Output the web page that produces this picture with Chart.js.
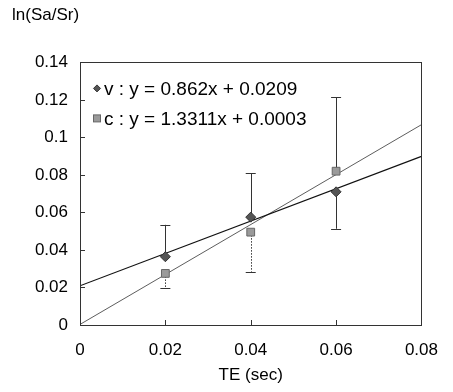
<!DOCTYPE html>
<html>
<head>
<meta charset="utf-8">
<script src="https://cdn.jsdelivr.net/npm/chart.js@4/dist/chart.umd.min.js"></script>
<style>
html,body{margin:0;padding:0;background:#fff;}
#wrap{width:453px;height:392px;position:relative;}
</style>
</head>
<body>
<div id="wrap"><canvas id="c" width="453" height="392"></canvas></div>
<script>
// ---- data ----
const teValues = [0.02, 0.04, 0.06];
const vValues = [0.0364, 0.0575, 0.071];
const cValues = [0.0275, 0.0495, 0.082];
// error bar end points (one-sided bars as drawn)
const vErrEnds = [0.0534, 0.081, 0.0513];
const cErrEnds = [0.0197, 0.0284, 0.1215];
// trend line end points (from legend equations, x = 0 and 0.08)
const trendX = [0, 0.08];
const vTrend = [0.0209, 0.0899];
const cTrend = [0.0003, 0.1068];
const legendLabels = ['v : y = 0.862x + 0.0209', 'c : y = 1.3311x + 0.0003'];
const xTicks = [0, 0.02, 0.04, 0.06, 0.08];
const yTicks = [0, 0.02, 0.04, 0.06, 0.08, 0.1, 0.12, 0.14];

const FONT = "'Liberation Sans', Arial, sans-serif";

const pts = (xs, ys) => xs.map((x, i) => ({x: x, y: ys[i]}));

const errPlugin = {
  id: 'errbars',
  beforeDatasetsDraw(chart) {
    const ctx = chart.ctx, xs = chart.scales.x, ys = chart.scales.y;
    const draw = (vals, ends, color) => {
      teValues.forEach((t, i) => {
        const px = xs.getPixelForValue(t);
        const y0 = ys.getPixelForValue(vals[i]);
        const y1 = ys.getPixelForValue(ends[i]);
        const dotted = (color === 'c' && ends[i] < vals[i]);
        ctx.save();
        ctx.strokeStyle = '#333';
        ctx.lineWidth = 1;
        if (dotted) ctx.setLineDash([1.5, 1.5]);
        ctx.beginPath();
        ctx.moveTo(Math.round(px) + 0.5, y0);
        ctx.lineTo(Math.round(px) + 0.5, y1);
        ctx.stroke();
        ctx.setLineDash([]);
        ctx.beginPath();
        ctx.moveTo(px - 5, Math.round(y1) + 0.5);
        ctx.lineTo(px + 5, Math.round(y1) + 0.5);
        ctx.stroke();
        ctx.restore();
      });
    };
    draw(vValues, vErrEnds, 'v');
    draw(cValues, cErrEnds, 'c');
  }
};

const framePlugin = {
  id: 'frame',
  afterDraw(chart) {
    const ctx = chart.ctx, a = chart.chartArea, xs = chart.scales.x, ys = chart.scales.y;
    ctx.save();
    ctx.strokeStyle = '#333';
    ctx.lineWidth = 1;
    ctx.strokeRect(Math.round(a.left) + 0.5, Math.round(a.top) + 0.5,
                   Math.round(a.right - a.left), Math.round(a.bottom - a.top));
    ctx.beginPath();
    xTicks.forEach(t => {
      const px = Math.round(xs.getPixelForValue(t)) + 0.5;
      ctx.moveTo(px, a.bottom); ctx.lineTo(px, a.bottom - 5);
    });
    yTicks.forEach(t => {
      const py = Math.round(ys.getPixelForValue(t)) + 0.5;
      ctx.moveTo(a.left, py); ctx.lineTo(a.left + 5, py);
    });
    ctx.stroke();
    // legend
    ctx.font = '19px ' + FONT;
    ctx.fillStyle = '#000';
    ctx.textBaseline = 'middle';
    const lx = a.left + 17, ly0 = a.top + 26, gap = 30;
    ctx.save();
    ctx.fillStyle = '#555'; ctx.strokeStyle = '#333';
    ctx.beginPath();
    ctx.moveTo(lx, ly0 - 3.5); ctx.lineTo(lx + 3.5, ly0); ctx.lineTo(lx, ly0 + 3.5); ctx.lineTo(lx - 3.5, ly0);
    ctx.closePath(); ctx.fill(); ctx.stroke();
    ctx.fillStyle = '#9a9a9a'; ctx.strokeStyle = '#666';
    ctx.fillRect(lx - 3.5, ly0 + gap - 3.5, 7, 7);
    ctx.strokeRect(lx - 3.5, ly0 + gap - 3.5, 7, 7);
    ctx.restore();
    ctx.fillText(legendLabels[0], lx + 7, ly0 + 1);
    ctx.fillText(legendLabels[1], lx + 7, ly0 + gap + 1);
    ctx.restore();
  }
};

new Chart(document.getElementById('c'), {
  type: 'scatter',
  data: {
    datasets: [
      {label: 'v trend', type: 'line', data: pts(trendX, vTrend), borderColor: '#111', borderWidth: 1.1,
       pointRadius: 0, fill: false, order: 3},
      {label: 'c trend', type: 'line', data: pts(trendX, cTrend), borderColor: '#333', borderWidth: 0.8,
       pointRadius: 0, fill: false, order: 3},
      {label: legendLabels[0], data: pts(teValues, vValues), pointStyle: 'rectRot', pointRadius: 5,
       backgroundColor: '#555', borderColor: '#333', borderWidth: 1, order: 1},
      {label: legendLabels[1], data: pts(teValues, cValues), pointStyle: 'rect', pointRadius: 5.5,
       backgroundColor: '#9a9a9a', borderColor: '#666', borderWidth: 1, order: 1}
    ]
  },
  options: {
    responsive: false,
    animation: false,
    events: [],
    layout: {padding: {left: 12, right: 30, top: 0, bottom: 0}},
    plugins: {
      legend: {display: false},
      tooltip: {enabled: false},
      title: {display: true, text: 'ln(Sa/Sr)', align: 'start', color: '#000',
              font: {family: FONT, size: 17, weight: 'normal'}, padding: {top: 5, bottom: 37}}
    },
    scales: {
      x: {
        type: 'linear', min: 0, max: 0.08,
        afterBuildTicks(s) { s.ticks = xTicks.map(v => ({value: v})); },
        afterFit(s) { s.height = 67; },
        ticks: {color: '#000', font: {family: FONT, size: 17}, padding: 15,
                callback: v => String(v)},
        grid: {display: false, drawTicks: false},
        border: {display: false},
        title: {display: true, text: 'TE (sec)', color: '#000', font: {family: FONT, size: 17},
                padding: {top: 0, bottom: 6}}
      },
      y: {
        type: 'linear', min: 0, max: 0.14,
        afterBuildTicks(s) { s.ticks = yTicks.map(v => ({value: v})); },
        afterFit(s) { s.width = 68; },
        ticks: {color: '#000', font: {family: FONT, size: 17}, padding: 12,
                callback: v => String(v)},
        grid: {display: false, drawTicks: false},
        border: {display: false}
      }
    }
  },
  plugins: [errPlugin, framePlugin]
});
</script>
</body>
</html>
